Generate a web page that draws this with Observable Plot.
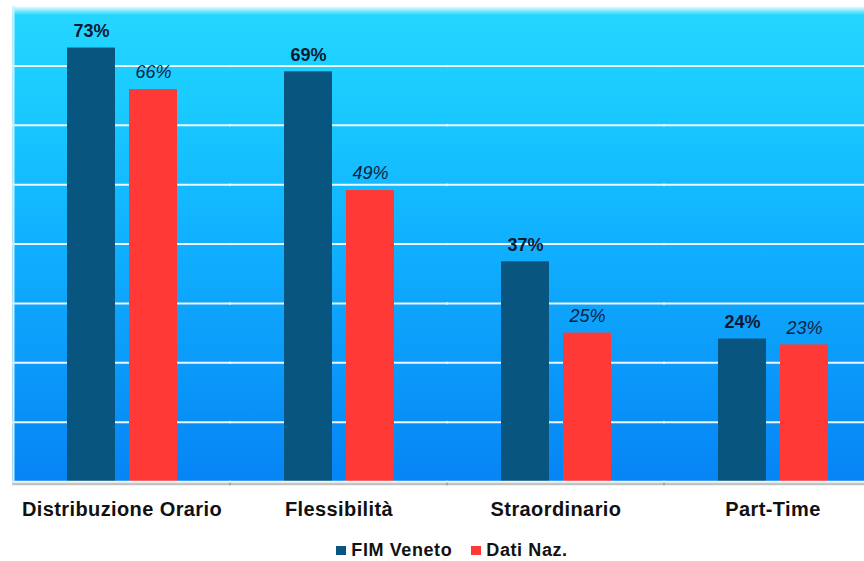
<!DOCTYPE html>
<html><head><meta charset="utf-8">
<script src="https://cdn.jsdelivr.net/npm/d3@7"></script>
<script src="https://cdn.jsdelivr.net/npm/@observablehq/plot@0.6"></script>
<style>
body{margin:0;background:#fff;font-family:"Liberation Sans",Arial,sans-serif;}
#chart svg{display:block;}
#legend{display:flex;justify-content:center;gap:19px;padding-left:40px;padding-top:10px;line-height:20px;font-size:18px;font-weight:bold;letter-spacing:0.6px;color:#111;}
#legend .item{display:flex;align-items:center;gap:5px;}
#legend .sw{width:10px;height:9px;display:inline-block;}
</style></head><body><div id="chart"></div><div id="legend"></div>
<script>
const categories = ["Distribuzione Orario", "Flessibilità", "Straordinario", "Part-Time"];
const series = ["FIM Veneto", "Dati Naz."];
const fimVeneto = [73, 69, 37, 24];
const datiNaz = [66, 49, 25, 23];
const seriesColors = ["#08557f", "#ff3a36"];
const gridValues = [10, 20, 30, 40, 50, 60, 70];

const data = categories.flatMap((c, i) => [
  {category: c, series: series[0], value: fimVeneto[i]},
  {category: c, series: series[1], value: datiNaz[i]}
]);

const font = '"Liberation Sans", Arial, sans-serif';

const chart = Plot.plot({
  width: 864, height: 530,
  marginTop: 6, marginBottom: 49, marginLeft: 13, marginRight: 0,
  style: {fontFamily: font, background: "transparent", overflow: "visible"},
  fx: {domain: categories, range: [13, 881], padding: 0, label: null},
  x: {domain: series, paddingInner: 0.226, paddingOuter: 0.863, axis: null},
  y: {domain: [0, 80], axis: null},
  color: {domain: series, range: seriesColors},
  marks: [
    Plot.frame({fill: "url(#bgGrad)", stroke: null, insetLeft: -1, insetRight: -1}),
    Plot.ruleY(gridValues, {stroke: "#ffffff", strokeWidth: 2, strokeOpacity: 0.92, insetLeft: -1, insetRight: -1}),
    Plot.barY(data, {fx: "category", x: "series", y: "value", fill: "series"}),
    Plot.text(data.filter(d => d.series === series[0]), {fx: "category", x: "series", y: "value", text: d => d.value + "%", dy: -17, fontWeight: "bold", fontSize: 18, fill: "#0b1a33"}),
    Plot.text(data.filter(d => d.series === series[1]), {fx: "category", x: "series", y: "value", text: d => d.value + "%", dy: -17, fontStyle: "italic", fontSize: 18, fill: "#0b1f40"}),
    Plot.ruleY([0], {stroke: "#e8f4ff", strokeWidth: 1.5, insetLeft: -1, insetRight: -1}),
    Plot.ruleY([0], {stroke: "#7a7a7a", dy: 2.5, strokeWidth: 2.5, strokeOpacity: 0.45, insetLeft: -1, insetRight: -1}),
    Plot.frame({anchor: "left", facetAnchor: "left", stroke: "#c8f2ff", strokeWidth: 2}),
    Plot.axisFx({anchor: "bottom", tickSize: 0, tickPadding: 20, fontSize: 20, fontWeight: "bold", label: null, fill: "#111"})
  ]
});

const ns = "http://www.w3.org/2000/svg";
const defs = document.createElementNS(ns, "defs");
const lg = document.createElementNS(ns, "linearGradient");
lg.setAttribute("id", "bgGrad");
lg.setAttribute("x1", "0"); lg.setAttribute("y1", "0");
lg.setAttribute("x2", "0"); lg.setAttribute("y2", "1");
[["0%", "#e8fcff"], ["1.8%", "#24d6ff"], ["20%", "#19cbff"], ["50%", "#10b0ff"], ["100%", "#0684f5"]].forEach(([o, c]) => {
  const s = document.createElementNS(ns, "stop");
  s.setAttribute("offset", o); s.setAttribute("stop-color", c);
  lg.appendChild(s);
});
defs.appendChild(lg);
chart.insertBefore(defs, chart.firstChild);
chart.querySelectorAll('[aria-label="fx-axis tick label"] text').forEach(t => t.setAttribute("letter-spacing", "0.4"));
document.getElementById("chart").appendChild(chart);

const legend = document.getElementById("legend");
series.forEach((s, i) => {
  const item = document.createElement("span");
  item.className = "item";
  const sw = document.createElement("span");
  sw.className = "sw";
  sw.style.background = seriesColors[i];
  item.appendChild(sw);
  item.appendChild(document.createTextNode(s));
  legend.appendChild(item);
});
</script>
</body></html>
